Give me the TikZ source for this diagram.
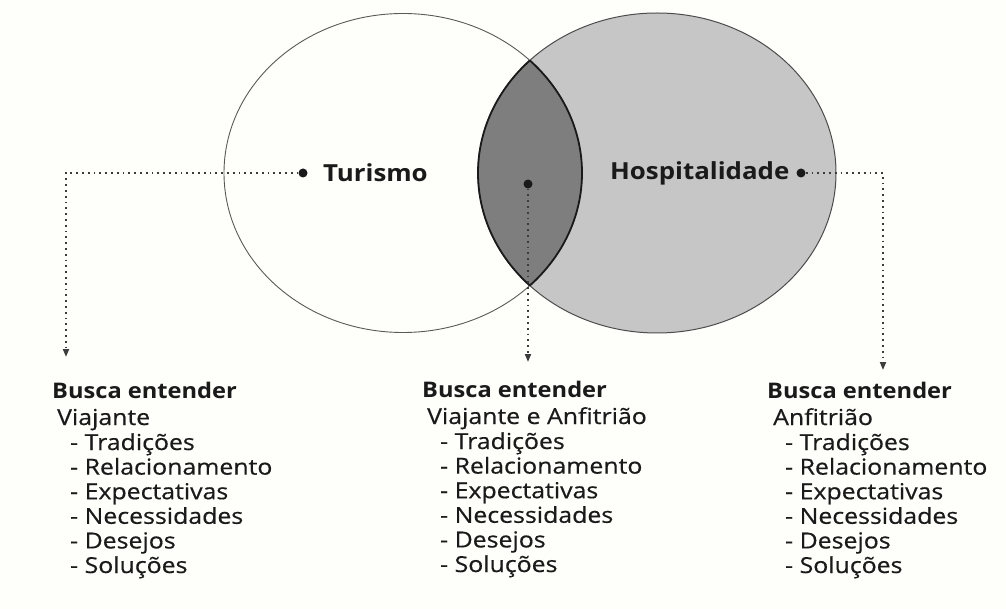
\documentclass[tikz,border=0pt]{standalone}
\usepackage{fontspec}
\setmainfont{Open Sans}
\newfontfamily\titlefont{Open Sans}[FakeStretch=1.10]
\newfontfamily\headfont{Open Sans}[FakeStretch=1.10]
\newfontfamily\bodyfont{Open Sans}[FakeStretch=1.13,FakeBold=0.5]
\usetikzlibrary{arrows.meta}
\definecolor{paper}{HTML}{FEFEFB}
\definecolor{hospfill}{HTML}{C6C6C6}
\definecolor{lensfill}{HTML}{7E7E7E}
\definecolor{ink}{HTML}{1A1A1A}
\begin{document}
\begin{tikzpicture}[x=1pt,y=-1pt,
  dotmark/.style={circle,fill=ink,inner sep=0pt,minimum size=9pt},
  conn/.style={line width=1.8pt,dash pattern=on 1.8pt off 4pt,ink!85,-{Triangle[length=8pt,width=6pt]}},
  title/.style={font=\titlefont\fontsize{23.5}{26}\selectfont\bfseries,text=ink,anchor=base west,inner sep=0pt},
  head/.style={font=\headfont\fontsize{21.5}{24}\selectfont\bfseries,text=ink,anchor=base west,inner sep=0pt},
  body/.style={font=\bodyfont\fontsize{22}{25}\selectfont,text=ink,anchor=base west,inner sep=0pt}]
\fill[paper] (0,0) rectangle (1006,609);
\useasboundingbox (0,0) rectangle (1006,609);
% circles
\fill[hospfill] (657,173) ellipse [x radius=179pt, y radius=160pt];
\begin{scope}
  \clip (403,173) ellipse [x radius=179pt, y radius=159.5pt];
  \fill[lensfill] (657,173) ellipse [x radius=179pt, y radius=160pt];
\end{scope}
\draw[line width=0.9pt,black!65] (403,173) ellipse [x radius=179pt, y radius=159.5pt];
\draw[line width=1pt,black!70] (657,173) ellipse [x radius=179pt, y radius=160pt];
\begin{scope}
  \clip (403,173) ellipse [x radius=179pt, y radius=159.5pt];
  \draw[line width=1.8pt,ink] (657,173) ellipse [x radius=179pt, y radius=160pt];
\end{scope}
\begin{scope}
  \clip (657,173) ellipse [x radius=179pt, y radius=160pt];
  \draw[line width=1.8pt,ink] (403,173) ellipse [x radius=179pt, y radius=159.5pt];
\end{scope}
% dots and titles
\node[dotmark] (dtur) at (303,173) {};
\node[dotmark] (dmid) at (528,184) {};
\node[dotmark] (dhos) at (801,173) {};
\node[title] (tur) at (323,182) {Turismo};
\node[title] (hos) at (610,180) {Hospitalidade};
% connectors
\coordinate (lcorner) at (66,173);
\coordinate (lend) at (66,357);
\coordinate (mend) at (528,362);
\coordinate (rcorner) at (883,173);
\coordinate (rend) at (883,370);
\draw[conn] (dtur) -- (lcorner) -- (lend);
\draw[conn] (dmid) -- (mend);
\draw[conn] (dhos) -- (rcorner) -- (rend);
% left block
\node[head] (lh) at (52,398) {Busca entender};
\node[body] (ls) at (57,425) {Viajante};
\node[body] (l1) at (70,450) {- Tradições};
\node[body] (l2) at (70,474.6) {- Relacionamento};
\node[body] (l3) at (70,499.2) {- Expectativas};
\node[body] (l4) at (70,523.8) {- Necessidades};
\node[body] (l5) at (70,548.4) {- Desejos};
\node[body] (l6) at (70,573) {- Soluções};
% middle block
\node[head] (mh) at (422,397) {Busca entender};
\node[body] (ms) at (427,424) {Viajante e Anfitrião};
\node[body] (m1) at (440,449) {- Tradições};
\node[body] (m2) at (440,473.6) {- Relacionamento};
\node[body] (m3) at (440,498.2) {- Expectativas};
\node[body] (m4) at (440,522.8) {- Necessidades};
\node[body] (m5) at (440,547.4) {- Desejos};
\node[body] (m6) at (440,572) {- Soluções};
% right block
\node[head] (rh) at (767,398) {Busca entender};
\node[body] (rs) at (773,425) {Anfitrião};
\node[body] (r1) at (785,450) {- Tradições};
\node[body] (r2) at (785,474.6) {- Relacionamento};
\node[body] (r3) at (785,499.2) {- Expectativas};
\node[body] (r4) at (785,523.8) {- Necessidades};
\node[body] (r5) at (785,548.4) {- Desejos};
\node[body] (r6) at (785,573) {- Soluções};
\end{tikzpicture}
\end{document}
